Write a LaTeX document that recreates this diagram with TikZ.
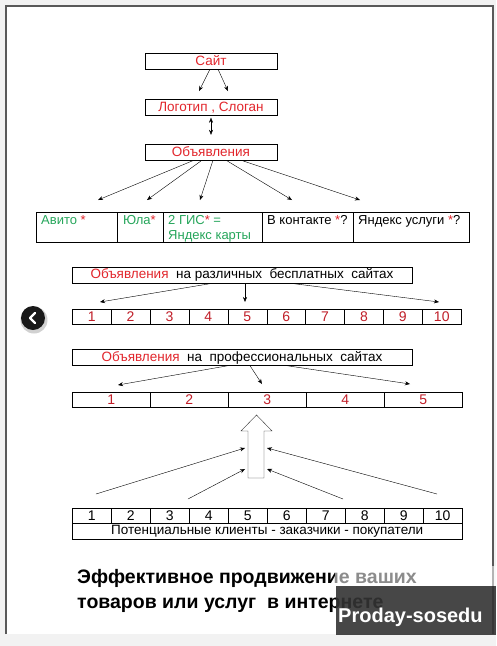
\documentclass[tikz,border=0pt]{standalone}
\usepackage{fontspec}
\setmainfont{Liberation Sans}
\usetikzlibrary{arrows.meta,positioning}
\definecolor{adred}{RGB}{226,38,44}
\definecolor{numred}{RGB}{192,30,40}
\definecolor{adgreen}{RGB}{38,166,91}

\begin{document}
\begin{tikzpicture}[x=1pt, y=-1pt, >={Stealth[length=5pt,width=4pt]},
    font=\fontsize{13.5}{15}\selectfont]
      \useasboundingbox (0,0) rectangle (496,646);
      \fill[black!5] (0,0) rectangle (496,646);
      \fill[white] (6,6) rectangle (493,634);
      \draw[black!65, line width=1.5pt] (6,634) -- (6,6) -- (493,6) -- (493,634);

      \begin{scope}[every node/.style={draw, thin, minimum width=132pt, minimum height=16pt, inner sep=0pt, text=adred}]
        \node (site) at (211,61) {Сайт};
        \node (logo) at (211,107.5) {Логотип , Слоган};
        \node (ads) at (211,152) {Объявления};
      \end{scope}

      \begin{scope}[every node/.style={draw, thin, minimum height=30pt, inner sep=0pt, anchor=north west}]
        \node (avito)[minimum width=81pt] at (36,212) {};
        \node (yula)[minimum width=46pt] at (117,212) {};
        \node (gis)[minimum width=99pt] at (163,212) {};
        \node (vk)[minimum width=91pt] at (262,212) {};
        \node (yaserv)[minimum width=116pt] at (353,212) {};
      \end{scope}
      \begin{scope}[every node/.style={anchor=north west, inner sep=0pt, align=left, text=adgreen,
          font=\fontsize{13}{15}\selectfont}]
        \node (avitotxt) at ([xshift=5pt,yshift=-3pt]avito.north west) {Авито \textcolor{adred}{*}};
        \node (yulatxt) at ([xshift=6pt,yshift=-3pt]yula.north west) {Юла\textcolor{adred}{*}};
        \node (gistxt) at ([xshift=5pt,yshift=-3pt]gis.north west) {2 ГИС\textcolor{adred}{*} =\\Яндекс карты};
        \node (vktxt)[text=black] at ([xshift=5pt,yshift=-3pt]vk.north west) {В контакте \textcolor{adred}{*}?};
        \node (yaservtxt)[text=black] at ([xshift=5pt,yshift=-3pt]yaserv.north west) {Яндекс услуги \textcolor{adred}{*}?};
      \end{scope}

      \begin{scope}[every node/.style={draw, thin, minimum width=340pt, minimum height=16pt, inner sep=0pt}]
        \node (free) at (242,275) {\textcolor{adred}{Объявления}\ \ на различных\ \ бесплатных\ \ сайтах};
        \node (pro) at (242,357.5) {\textcolor{adred}{Объявления}\ \ на\ \ профессиональных\ \ сайтах};
      \end{scope}

      \begin{scope}[every node/.style={draw, thin, minimum height=15pt, inner sep=0pt, anchor=north west,
          font=\fontsize{14}{15}\selectfont}]
        \foreach \i in {1,...,10}
          \node (free\i)[minimum width=38.9pt, text=numred] at ({72+38.9*(\i-1)},309) {\i};
        \foreach \i in {1,...,5}
          \node (pro\i)[minimum width=78pt, text=numred] at ({72+78*(\i-1)},392) {\i};
        \foreach \i in {1,...,10}
          \node (client\i)[minimum width=39pt] at ({72+39*(\i-1)},508) {\i};
        \node (clients)[minimum width=390pt, minimum height=16pt, font=\fontsize{13.5}{15}\selectfont] at (72,523)
          {Потенциальные клиенты - заказчики - покупатели};
      \end{scope}

      \coordinate (siteL) at (199,91);
      \coordinate (siteR) at (228,91);
      \coordinate (tavito) at (98,200);
      \coordinate (tyula) at (147,200);
      \coordinate (tgis) at (200,200);
      \coordinate (tvk) at (292,200);
      \coordinate (tyaserv) at (360,200);
      \coordinate (tfreeL) at (100,302);
      \coordinate (tfreeM) at (245,302);
      \coordinate (tfreeR) at (439,302);
      \coordinate (tproL) at (118,385);
      \coordinate (tproM) at (262,384);
      \coordinate (tproR) at (410,384);
      \coordinate (fromLL) at (96,494);
      \coordinate (fromL) at (188,499);
      \coordinate (fromR) at (343,499);
      \coordinate (fromRR) at (437,494);
      \coordinate (upLL) at (245,448);
      \coordinate (upL) at (245,469);
      \coordinate (upR) at (267,469);
      \coordinate (upRR) at (267,448);

      \begin{scope}[thin]
        \draw[->] ([xshift=-1pt]site.south) -- (siteL);
        \draw[->] ([xshift=7pt]site.south) -- (siteR);
        \draw[<->] ([yshift=-2pt]logo.south) -- ([yshift=9pt]ads.north);
        \draw[->] ([xshift=-17pt]ads.south) -- (tavito);
        \draw[->] ([xshift=-9pt]ads.south) -- (tyula);
        \draw[->] ([xshift=2pt]ads.south) -- (tgis);
        \draw[->] ([xshift=15pt]ads.south) -- (tvk);
        \draw[->] ([xshift=30pt]ads.south) -- (tyaserv);
        \draw[->] ([xshift=-29pt]free.south) -- (tfreeL);
        \draw[->] ([xshift=3pt]free.south) -- (tfreeM);
        \draw[->] ([xshift=48pt]free.south) -- (tfreeR);
        \draw[->] ([xshift=-14pt]pro.south) -- (tproL);
        \draw[->] ([xshift=8pt]pro.south) -- (tproM);
        \draw[->] ([xshift=45pt]pro.south) -- (tproR);
        \draw[->] (fromLL) -- (upLL);
        \draw[->] (fromL) -- (upL);
        \draw[->] (fromR) -- (upR);
        \draw[->] (fromRR) -- (upRR);
      \end{scope}

      \draw[black!80, thin, line join=miter] (248,478) -- (248,431) -- (241,431) -- (256.5,415)
        -- (272,431) -- (264,431) -- (264,478) -- cycle;

      \fill[black!18] (34,320) circle (13.5pt);
      \fill[black!90] (33,318) circle (12pt);
      \draw[white, line width=2.4pt, line cap=round, line join=round] (35,313) -- (30,318) -- (35,323);

      \node (title)[anchor=north west, inner sep=0pt, align=left,
        font=\bfseries\fontsize{19.5}{25}\selectfont] at (77,569)
        {Эффективное продвижение ваших\\товаров или услуг\ \ в интернете};
      \fill[white, opacity=0.55] (335,566) rectangle (496,586);
      \fill[black!80, opacity=0.9] (336,586) rectangle (496,635);
      \node (mark)[anchor=west, inner sep=0pt, text=white,
        font=\bfseries\fontsize{20}{22}\selectfont] at (338,617) {Proday-sosedu};
    \end{tikzpicture}
\end{document}
